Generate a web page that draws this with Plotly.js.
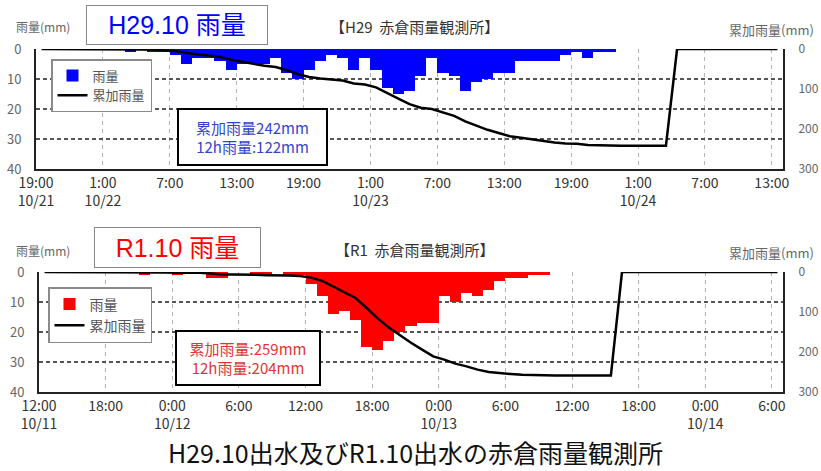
<!DOCTYPE html>
<html><head><meta charset="utf-8">
<script src="https://cdn.plot.ly/plotly-3.0.1.min.js"></script>
<style>html,body{margin:0;padding:0;background:#fff}#chart{width:821px;height:471px}</style>
</head><body><div id="chart"></div>
<script>
// ---- data (hourly) ----
const seriesNames = ['雨量', '累加雨量'];
const tickLabelsH29 = ['19:00<br>10/21','1:00<br>10/22','7:00','13:00','19:00','1:00<br>10/23','7:00','13:00','19:00','1:00<br>10/24','7:00','13:00'];
const tickLabelsR1  = ['12:00<br>10/11','18:00','0:00<br>10/12','6:00','12:00','18:00','0:00<br>10/13','6:00','12:00','18:00','0:00<br>10/14','6:00'];

const rainH29 = [0,0,0,0,0,0,0,0, 1,0,1,1,2,5,3,3,4,7, 5,5,5,3,8,10,7,4,2,3, 7,3,7,13,15,14,9,3,8,9, 14,11,10,8,8,4,4,4,4,2, 1,3,1,1, 0,0,0,0,0,0,0,0,0,0,0,0,0,0,0];
const cumH29  = [0,0,0,0,0,0,0,0, 1,1,2,3,5,10,13,16,20,27, 32,37,42,45,53,63,70,74,76,79, 86,89,96,109,124,138,147,150,158,167, 181,192,202,210,218,222,226,230,234,236, 237,240,241,242, 242,242,242,242,242, 0,0,0,0,0,0,0,0,0,0];

const rainR1 = [0,0,0,0,0,0,0,0,0, 1,0,0,1,0,0,2,2,0,0,1,1,0,1,1, 4,8,14,13,16,25,26,23,20,18, 17,17,8,10,7,8,6,3,2,2, 1,1, 0,0,0,0,0,0,0,0,0,0,0,0,0,0,0,0,0,0,0,0,0];
const cumR1  = [0,0,0,0,0,0,0,0,0, 1,1,1,2,2,2,4,6,6,6,7,8,8,9,10, 14,22,36,49,65,90,116,139,159,177, 194,211,219,229,236,244,250,253,255,257, 258,259, 259,259,259,259,259,259, 0,0,0,0,0,0,0,0,0,0,0,0,0,0,0];

const totalH29 = 242, h12H29 = 122, totalR1 = 259, h12R1 = 204;

// ---- helpers ----
const W = 821, H = 471;
const P = px => px / W, Q = py => 1 - py / H;
const FONT = 'Noto Sans CJK JP, Noto Sans, sans-serif';
const LATIN = 'Liberation Sans, Noto Sans CJK JP, sans-serif';
const centers = arr => arr.map((_, i) => i + 0.5);

function xAx(domain, anchor, labels) {
  return {domain, anchor, range:[0, 67], tickmode:'array',
    tickvals: labels.map((_, i) => i * 6), ticktext: labels,
    showgrid:true, gridcolor:'#b5b5b5', griddash:'4px,4px', gridwidth:1,
    showline:true, linecolor:'#222', linewidth:2, ticks:'', zeroline:false,
    tickfont:{size:14, color:'#333', family:FONT}, fixedrange:true};
}
function yAx(domain, anchor) {
  return {domain, anchor, range:[40, 0], tickmode:'array', tickvals:[0,10,20,30,40],
    showgrid:true, gridcolor:'#555', griddash:'4px,3px', gridwidth:1.2,
    showline:true, linecolor:'#222', linewidth:2, ticks:'', zeroline:false,
    ticklabelstandoff:10, tickfont:{size:13, color:'#666', family:FONT}, fixedrange:true};
}
function y2Ax(overlay, anchor) {
  return {overlaying:overlay, anchor, side:'right', range:[300, 0], tickmode:'array',
    tickvals:[0,100,200,300], showgrid:false, showline:true, linecolor:'#222', linewidth:2,
    ticks:'', zeroline:false, ticklabelstandoff:11,
    tickfont:{size:12, color:'#666', family:FONT}, fixedrange:true};
}

const traces = [
  {type:'bar', x:centers(rainH29), y:rainH29, xaxis:'x', yaxis:'y', width:1, name:seriesNames[0],
   marker:{color:'#0000ff', line:{width:0}}, legend:'legend'},
  {type:'scatter', mode:'lines', x:centers(cumH29), y:cumH29, xaxis:'x', yaxis:'y2', name:seriesNames[1],
   line:{color:'#000', width:2.5}, legend:'legend'},
  {type:'bar', x:centers(rainR1), y:rainR1, xaxis:'x2', yaxis:'y3', width:1, name:seriesNames[0],
   marker:{color:'#ff0000', line:{width:0}}, legend:'legend2'},
  {type:'scatter', mode:'lines', x:centers(cumR1), y:cumR1, xaxis:'x2', yaxis:'y4', name:seriesNames[1],
   line:{color:'#000', width:2.5}, legend:'legend2'}
];

const legendBase = {xanchor:'left', yanchor:'top', bgcolor:'#fff', bordercolor:'#8a8a8a', borderwidth:1.5,
  itemwidth:30, tracegroupgap:0, traceorder:'normal'};

function txt(x, y, text, size, color, extra) {
  return Object.assign({xref:'paper', yref:'paper', x:P(x), y:Q(y), text, showarrow:false,
    xanchor:'center', yanchor:'middle', font:{size, color, family:FONT}}, extra || {});
}

const annotations = [
  txt(43, 27, '雨量(mm)', 12, '#666'),
  txt(771, 30, '累加雨量(mm)', 13, '#666'),
  txt(414, 27, '【H29&nbsp;&nbsp;赤倉雨量観測所】', 15, '#333'),
  txt(176.5, 25.5, 'H29.10 雨量', 25, '#0000ff', {bordercolor:'#888', borderwidth:1, bgcolor:'#fff', width:178, height:36,
     font:{size:25, color:'#0000ff', family:LATIN}}),
  txt(252.5, 137, '累加雨量' + totalH29 + 'mm<br>12h雨量:' + h12H29 + 'mm', 15, '#3344cc',
     {bordercolor:'#000', borderwidth:2, bgcolor:'#fff', width:145, height:52}),

  txt(43, 250, '雨量(mm)', 12, '#666'),
  txt(771, 252, '累加雨量(mm)', 13, '#666'),
  txt(415, 249, '【R1&nbsp;&nbsp;赤倉雨量観測所】', 15, '#333'),
  txt(177, 247, 'R1.10 雨量', 25, '#ff0000', {bordercolor:'#888', borderwidth:1, bgcolor:'#fff', width:163, height:37,
     font:{size:25, color:'#ff0000', family:LATIN}}),
  txt(248.5, 357.5, '累加雨量:' + totalR1 + 'mm<br>12h雨量:' + h12R1 + 'mm', 15, '#e03535',
     {bordercolor:'#000', borderwidth:2, bgcolor:'#fff', width:140, height:50}),

  txt(415, 452, 'H29.10出水及びR1.10出水の赤倉雨量観測所', 25, '#111')
];

const layout = {
  width:W, height:H, margin:{l:0, r:0, t:0, b:0}, paper_bgcolor:'#fff', plot_bgcolor:'#fff',
  font:{family:FONT}, bargap:0, showlegend:true,
  xaxis: xAx([P(36), P(783)], 'y', tickLabelsH29),
  yaxis: yAx([Q(169), Q(49)], 'x'),
  yaxis2: y2Ax('y', 'x'),
  xaxis2: xAx([P(39), P(783)], 'y3', tickLabelsR1),
  yaxis3: yAx([Q(392), Q(272)], 'x2'),
  yaxis4: y2Ax('y3', 'x2'),
  legend: Object.assign({x:P(51), y:Q(59), font:{size:13, color:'#555', family:FONT}}, legendBase),
  legend2: Object.assign({x:P(48), y:Q(287), font:{size:14, color:'#555', family:FONT}}, legendBase),
  annotations
};

Plotly.newPlot('chart', traces, layout, {staticPlot:true, displayModeBar:false});
</script>
</body></html>
